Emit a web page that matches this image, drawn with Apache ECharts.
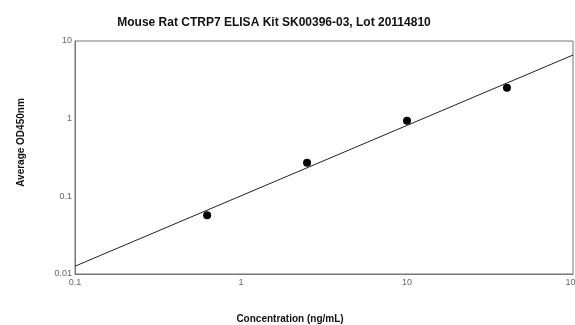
<!DOCTYPE html>
<html>
<head>
<meta charset="utf-8">
<script src="https://cdn.jsdelivr.net/npm/echarts@6/dist/echarts.min.js"></script>
<style>
  html, body { margin: 0; padding: 0; background: #fff; }
  #chart { width: 575px; height: 325px; }
</style>
</head>
<body>
<div id="chart"></div>
<script>
// standards (ng/mL) and mean OD450
const concentration = [0.625, 2.5, 10, 40]
const od450 = [0.057, 0.27, 0.94, 2.5]

// fitted line end points
const fitX = [0.1, 100]
const fitY = [0.0126, 6.6]

const chart = echarts.init(document.getElementById('chart'))

const axisLabel = {
  color: '#666',
  fontSize: 9,
  fontFamily: 'Liberation Sans'
}

chart.setOption({
  animation: false,
  title: {
    text: 'Mouse Rat CTRP7 ELISA Kit SK00396-03, Lot 20114810',
    left: 269,
    top: 12,
    textAlign: 'center',
    textStyle: {
      fontFamily: 'Liberation Sans',
      fontSize: 12,
      fontWeight: 'bold',
      color: '#111'
    }
  },
  grid: {
    left: 75,
    right: 2,
    top: 41,
    bottom: 51,
    outerBoundsMode: 'none',
    containLabel: false,
    show: true,
    borderColor: '#777',
    borderWidth: 1
  },
  xAxis: {
    type: 'log',
    logBase: 10,
    min: 0.1,
    max: 100,
    name: 'Concentration (ng/mL)',
    nameLocation: 'middle',
    nameGap: 40,
    nameTextStyle: {
      fontFamily: 'Liberation Sans',
      fontSize: 10,
      fontWeight: 'bold',
      color: '#111',
      padding: [0, 68, 0, 0]
    },
    axisLine: { lineStyle: { color: '#777' } },
    axisTick: { show: false },
    splitLine: { show: false },
    minorTick: { show: false },
    axisLabel: { ...axisLabel, margin: 4 }
  },
  yAxis: {
    type: 'log',
    logBase: 10,
    min: 0.01,
    max: 10,
    name: 'Average OD450nm',
    nameLocation: 'middle',
    nameGap: 49,
    nameTextStyle: {
      fontFamily: 'Liberation Sans',
      fontSize: 10,
      fontWeight: 'bold',
      color: '#111',
      padding: [0, 0, 0, 30]
    },
    axisLine: { lineStyle: { color: '#777' } },
    axisTick: { show: false },
    splitLine: { show: false },
    axisLabel: { ...axisLabel, margin: 3 }
  },
  series: [
    {
      name: 'fit',
      type: 'line',
      data: fitX.map((x, i) => [x, fitY[i]]),
      symbol: 'none',
      lineStyle: { color: '#222', width: 1 },
      silent: true
    },
    {
      name: 'standards',
      type: 'scatter',
      data: concentration.map((x, i) => [x, od450[i]]),
      symbol: 'circle',
      symbolSize: 8,
      itemStyle: { color: '#000', opacity: 1 }
    }
  ]
})
</script>
</body>
</html>
